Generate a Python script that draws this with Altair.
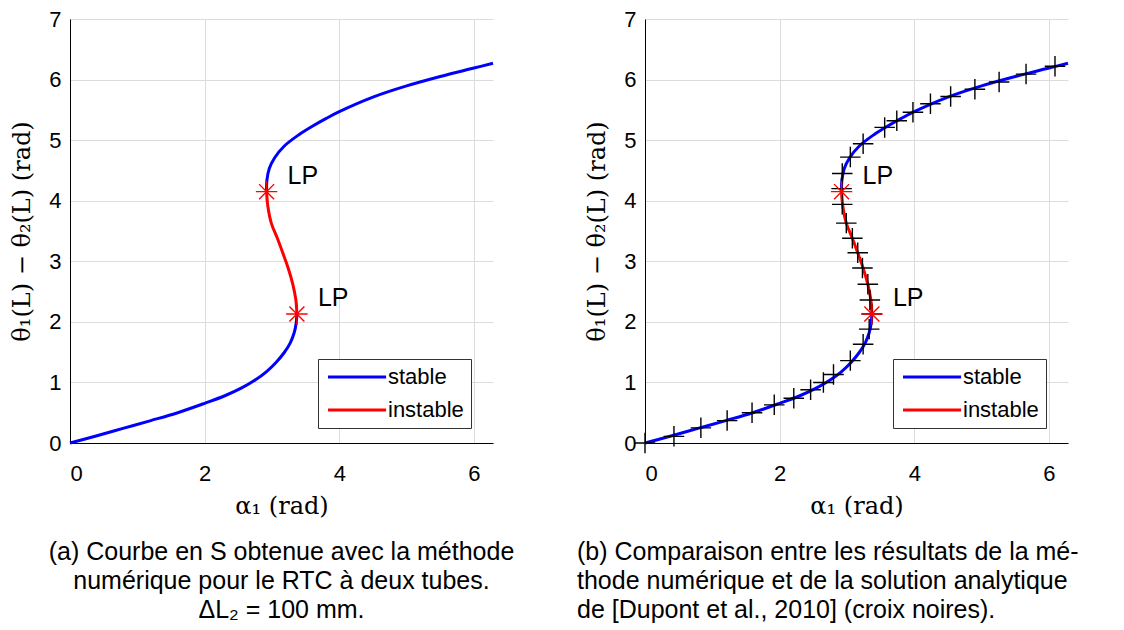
import altair as alt
import pandas as pd
import math

# ---------------- data ----------------
TWO_PI = 2 * math.pi

# numerical S-curve: lower stable branch, unstable branch, upper stable branch
low_x = [0.0, 0.40, 0.80, 1.20, 1.60, 2.00, 2.30, 2.55, 2.75, 2.92, 3.06, 3.18, 3.27, 3.33, 3.36, 3.37]
low_y = [0.0, 0.12, 0.245, 0.37, 0.50, 0.655, 0.78, 0.91, 1.04, 1.18, 1.33, 1.49, 1.65, 1.82, 1.98, 2.13]

mid_x = [3.37, 3.355, 3.31, 3.24, 3.16, 3.08, 2.99, 2.94, 2.92]
mid_y = [2.13, 2.36, 2.62, 2.89, 3.14, 3.38, 3.63, 3.90, 4.15]

up_x = [2.92, 2.925, 2.96, 3.04, 3.18, 3.40, 3.60, 3.80, 4.00, 4.50, 5.00, 5.50, 6.00, TWO_PI]
up_y = [4.15, 4.34, 4.53, 4.71, 4.90, 5.09, 5.23, 5.355, 5.47, 5.71, 5.895, 6.05, 6.19, 6.27]

# limit points
lp_x = [3.37, 2.92]
lp_y = [2.13, 4.15]
lp_label = ["LP", "LP"]

# analytic solution (black crosses)
cr_x = [0.0, 0.43, 0.83, 1.22, 1.59, 1.92, 2.21, 2.46, 2.65, 2.80, 3.05, 3.24, 3.33, 3.37,
        3.34, 3.31, 3.23, 3.16, 3.08, 2.99, 2.93, 2.92, 2.93, 3.05, 3.24, 3.56, 3.74,
        3.98, 4.24, 4.54, 4.90, 5.26, 5.66, 6.09]
cr_y = [0.0, 0.11, 0.25, 0.37, 0.50, 0.63, 0.74, 0.88, 1.00, 1.13, 1.36, 1.63, 1.88, 2.13,
        2.36, 2.62, 2.89, 3.14, 3.38, 3.63, 3.94, 4.20, 4.45, 4.72, 4.94, 5.21, 5.32,
        5.46, 5.60, 5.72, 5.84, 5.96, 6.09, 6.22]

legend_domain = ["stable", "instable"]
legend_colors = ["#0000ff", "#ff0000"]

caption_a = ["(a) Courbe en S obtenue avec la méthode",
             "numérique pour le RTC à deux tubes.",
             "ΔL₂ = 100 mm."]
caption_b = ["(b) Comparaison entre les résultats de la mé-",
             "thode numérique et de la solution analytique",
             "de [Dupont et al., 2010] (croix noires)."]

# ---------------- tables ----------------
rows = []
for seg, xs, ys, st in [("low", low_x, low_y, "stable"),
                         ("mid", mid_x, mid_y, "instable"),
                         ("up", up_x, up_y, "stable")]:
    for i, (a, b) in enumerate(zip(xs, ys)):
        rows.append({"x": a, "y": b, "seg": seg, "stab": st, "ord": i})
curve_df = pd.DataFrame(rows)
lp_df = pd.DataFrame({"x": lp_x, "y": lp_y, "t": lp_label})
cr_df = pd.DataFrame({"x": cr_x, "y": cr_y})

W, H = 423, 424
SANS = "Liberation Sans, Arial, Helvetica, sans-serif"
SERIF = "DejaVu Serif, serif"

ASTERISK = "M-1,0L1,0M0,-1L0,1M-0.7,-0.7L0.7,0.7M-0.7,0.7L0.7,-0.7"
PLUS = "M-1,0L1,0M0,-1L0,1"

xenc = alt.X("x:Q", scale=alt.Scale(domain=[0, TWO_PI], nice=False, zero=False),
             axis=alt.Axis(values=[0, 2, 4, 6], format="d", title="α₁  (rad)"))
yenc = alt.Y("y:Q", scale=alt.Scale(domain=[0, 7], nice=False),
             axis=alt.Axis(values=[0, 1, 2, 3, 4, 5, 6, 7], format="d",
                           title="θ₁(L) − θ₂(L) (rad)"))


def legend():
    return alt.Legend(
        title=None, orient="none", legendX=248, legendY=340,
        symbolType="M-1,0L7.3,0", symbolSize=196, symbolStrokeWidth=3,
        symbolOffset=-1, labelOffset=42,
        labelFont=SANS, labelFontSize=22, labelColor="black",
        strokeColor="#333333", fillColor="white", padding=7, rowPadding=11,
        cornerRadius=0,
    )


def base_layers():
    line = alt.Chart(curve_df).mark_line(strokeWidth=3, interpolate="catmull-rom").encode(
        x=xenc, y=yenc,
        color=alt.Color("stab:N", scale=alt.Scale(domain=legend_domain, range=legend_colors),
                        legend=legend(), sort=legend_domain),
        detail="seg:N",
        order="ord:Q",
    )
    ast = alt.Chart(lp_df).mark_point(shape=ASTERISK, size=460, filled=False,
                                      color="#ff0000", strokeWidth=1.4, opacity=1).encode(
        x="x:Q", y="y:Q")
    txt = alt.Chart(lp_df).mark_text(align="left", baseline="middle", dx=21, dy=-16,
                                     font=SANS, fontSize=25, color="black").encode(
        x="x:Q", y="y:Q", text="t:N")
    return line, ast, txt


l1, a1, t1 = base_layers()
left = alt.layer(l1, a1, t1).properties(
    width=W, height=H,
    title=alt.TitleParams(
        text=caption_a, orient="bottom", anchor="middle", frame="group", font=SANS,
        fontSize=25, fontWeight="normal", lineHeight=29, offset=22, color="black"),
)

l2, a2, t2 = base_layers()
crosses = alt.Chart(cr_df).mark_point(shape=PLUS, size=420, filled=False, color="black",
                                      strokeWidth=1.4, opacity=1).encode(x="x:Q", y="y:Q")
right = alt.layer(l2, crosses, a2, t2).properties(
    width=W, height=H,
    title=alt.TitleParams(
        text=caption_b, orient="bottom", anchor="start", align="left", frame="group",
        dx=-68, font=SANS, fontSize=25, fontWeight="normal", lineHeight=29, offset=22,
        color="black"),
)

chart = alt.hconcat(left, right, spacing=152, bounds="flush").resolve_scale(
    color="independent").resolve_legend(color="independent").configure(
    padding={"left": 2, "top": 0, "right": 5, "bottom": 0},
    background="white",
).configure_view(stroke=None).configure_axis(
    domainColor="black", domainWidth=1, grid=True, gridColor="#dcdcdc", gridWidth=1,
    ticks=False, labelFont=SANS, labelFontSize=22, labelColor="black",
    titleFont=SERIF, titleFontSize=24, titleFontWeight="normal", titleColor="black",
).configure_axisX(labelPadding=20, titlePadding=10).configure_axisY(
    labelPadding=9, titlePadding=14)

chart.save("out.html", embed_options={"renderer": "svg", "actions": False})
